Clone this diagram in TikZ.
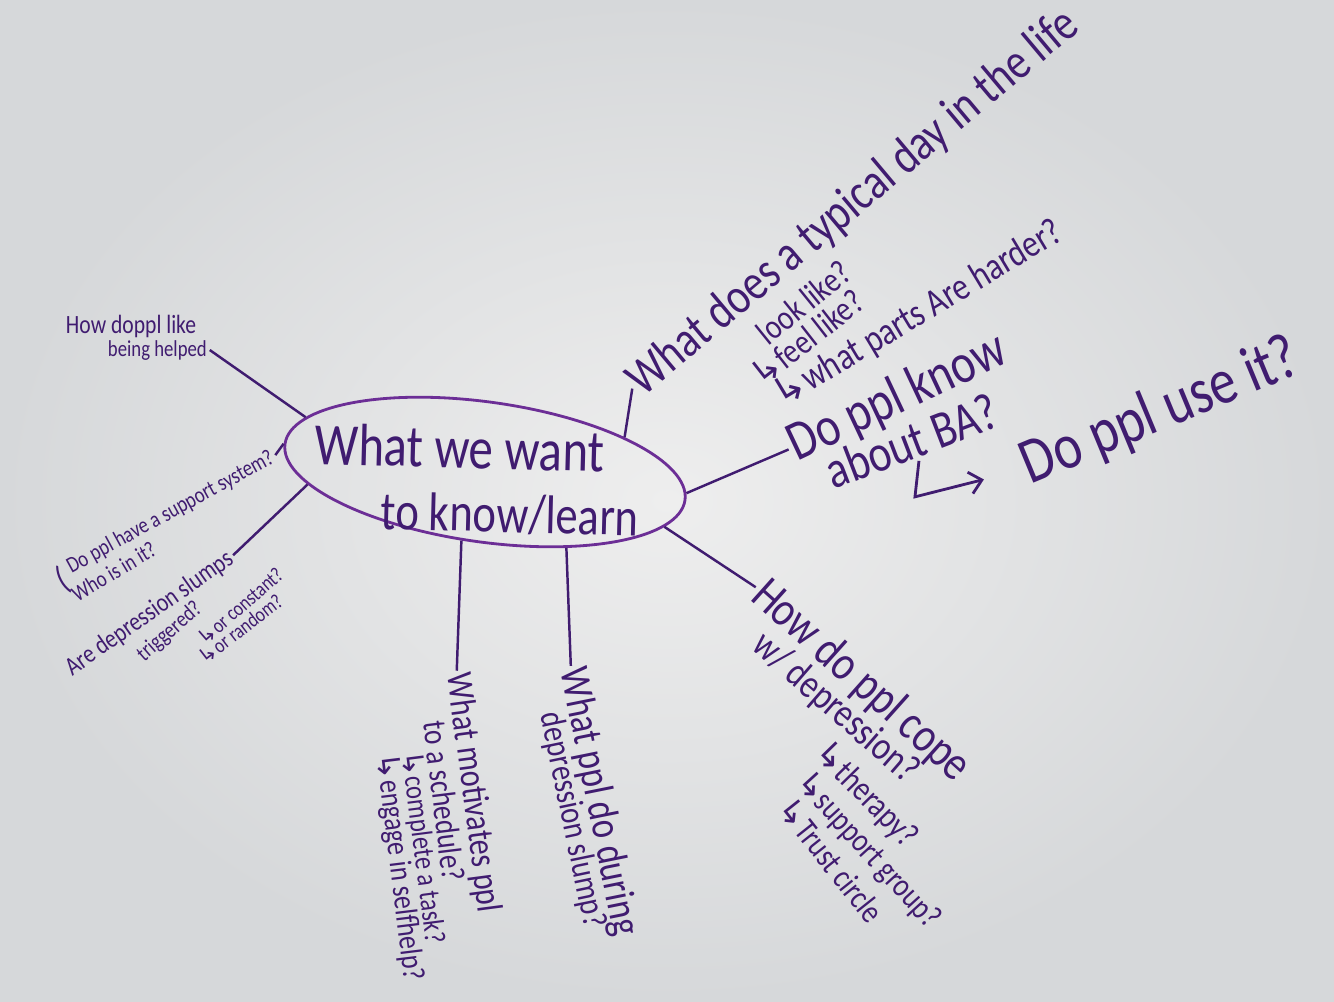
\documentclass[tikz,border=0pt]{standalone}
\usepackage{fontspec}
\usetikzlibrary{arrows.meta,shapes.geometric,calc}
\newfontfamily\hand[FakeStretch=0.82]{Carlito}
\newfontfamily\arrowfont{DejaVu Sans}
\newcommand{\turn}{{\arrowfont ↳}}
\definecolor{ink}{RGB}{64,28,112}
\definecolor{hubink}{RGB}{108,46,150}
\definecolor{boardhi}{RGB}{238,238,238}
\definecolor{boardlo}{RGB}{214,216,218}
\tikzset{
  hub/.style={ellipse, draw=hubink, line width=1.6pt, minimum width=8.08cm, minimum height=2.8cm, inner sep=0pt, rotate=-8},
  note/.style={text=ink, inner sep=1.5pt, anchor=base west, font=\hand\fontsize{#1}{#1}\selectfont},
  note/.default=14,
  link/.style={draw=ink, line width=1.4pt},
  hookarr/.style={-{Straight Barb[length=2.4mm, width=4.4mm]}, draw=ink, line width=1.6pt},
}

\begin{document}
\begin{tikzpicture}[x=0.02cm, y=-0.02cm]
  \useasboundingbox (0,0) rectangle (1334,1001);
  \shade[inner color=boardhi, outer color=boardlo] (0,0) rectangle (1334,1001);
  % centre
  \node[hub] (hub) at (485,472) {};
  \node[text=ink, anchor=west, align=left, rotate=-1.5, font=\hand\fontsize{34}{36}\selectfont] (title) at (308,476) {What we want\\\hspace*{1.36cm}{\fontsize{31}{36}\selectfont to know/learn}};
  % left side
  \node[note=15] (help1) at (63,333) {How doppl like};
  \node[note=13] (help2) at (105,356) {being helped};
  \node[note=13, rotate=28.7] (supp1) at (69,575) {Do ppl have a support system?};
  \node[note=13, rotate=31] (supp2) at (75,604) {Who is in it?};
  \node[note=20, anchor=center, rotate=28] (suppbr) at (62,580) {(};
  \node[note=15, rotate=35] (slump1) at (70,678) {Are depression slumps};
  \node[note=13, rotate=41] (slump2) at (142,664) {triggered?};
  \node[note=12, rotate=41] (slump3) at (203,648) {\turn or constant?};
  \node[note=12, rotate=37.5] (slump4) at (203,667) {\turn or random?};
  % bottom
  \node[note=21, rotate=-82.5] (motiv1) at (447,672) {What motivates ppl};
  \node[note=19, rotate=-83] (motiv2) at (423,720) {to a schedule?};
  \node[note=17, rotate=-82.7] (motiv3) at (401,750) {\turn complete a task?};
  \node[note=18, rotate=-83] (motiv4) at (376,752) {\turn engage in selfhelp?};
  \node[note=24, rotate=-78.6] (during1) at (560,668) {What ppl do during};
  \node[note=20, rotate=-78.3] (during2) at (540,712) {depression slump?};
  % right side
  \node[note=28, rotate=-41.8] (cope1) at (747,597) {How do ppl cope};
  \node[note=23, rotate=-41] (cope2) at (748,647) {w/ depression?};
  \node[note=20, rotate=-45.6] (cope3) at (810,752) {\turn therapy?};
  \node[note=19, rotate=-47.6] (cope4) at (792,781) {\turn support group?};
  \node[note=19, rotate=-51.5] (cope5) at (774,807) {\turn Trust circle};
  \node[note=32, rotate=25.2] (know1) at (795,463) {Do ppl know};
  \node[note=30, rotate=21] (know2) at (831,491) {about BA?};
  \node[note=37, rotate=22.5] (use) at (1028,486) {Do ppl use it?};
  \node[note=29, rotate=40] (day1) at (641,399) {What does a typical day in the life};
  \node[note=20, rotate=39] (day2) at (766,348) {look like?};
  \node[note=20, rotate=38] (day3) at (760,390) {\turn feel like?};
  \node[note=22, rotate=31] (day4) at (780,410) {\turn what parts Are harder?};
  % connectors
  \draw[link] (help2.east) -- (hub.171);
  \draw[link] (supp1.east) -- (hub.180);
  \draw[link] (slump1.east) -- (hub.192);
  \draw[link] (hub.259) -- (motiv1.west);
  \draw[link] (hub.325) -- (during1.west);
  \draw[link] (hub.351) -- (cope1.west);
  \draw[link] (hub.2) -- (know1.west);
  \draw[link] (hub.22) -- (day1.west);
  \draw[hookarr, shorten >=22pt] (know2.south) -- ++(-4,36) -- (use.west);
\end{tikzpicture}
\end{document}
